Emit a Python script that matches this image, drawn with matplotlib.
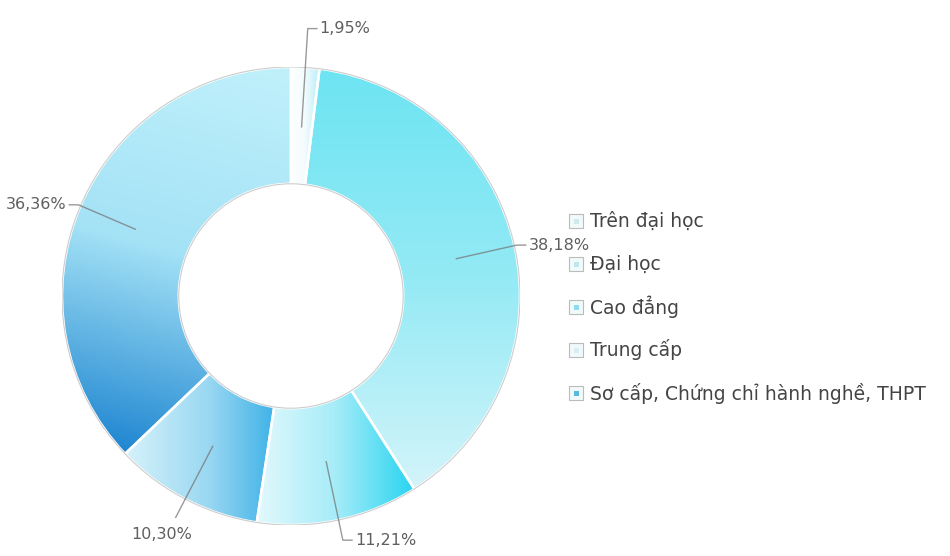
import numpy as np
import matplotlib
matplotlib.use("Agg")
import matplotlib.pyplot as plt
from matplotlib.colors import LinearSegmentedColormap
from matplotlib.patches import Circle, Rectangle

plt.rcParams["font.family"] = ["DejaVu Sans"]

# education level breakdown (%)
levels = ["Trên đại học", "Đại học", "Cao đẳng", "Trung cấp",
          "Sơ cấp, Chứng chỉ hành nghề, THPT"]
shares = [1.95, 38.18, 11.21, 10.30, 36.36]
labels = ["1,95%", "38,18%", "11,21%", "10,30%", "36,36%"]

# gradient colour stops and direction (degrees) for each slice
grad_stops = [
    ["#ffffff", "#f2fcfe", "#b9eef8"],
    ["#6de4f2", "#94eaf5", "#d3f4fa"],
    ["#e2f9fd", "#a6ecf8", "#29d4f1"],
    ["#d6f2fb", "#9ad8f2", "#29a9e5"],
    ["#c0f1fb", "#a4e2f6", "#1f86d1"],
]
grad_dir = [0, -90, 0, 0, -105]
legend_dot = ["#cfe9ec", "#bfe6ea", "#8edcf0", "#d8eef2", "#58b9e0"]

W, H = 950, 556
fig = plt.figure(figsize=(W / 100, H / 100), dpi=100)

cx, cy, R = 291, 296, 229
ax = fig.add_axes([(cx - R) / W, (H - cy - R) / H, 2 * R / W, 2 * R / H])
inner = 0.49

wedges, _ = ax.pie(shares, startangle=90, counterclock=False, radius=1,
                   wedgeprops=dict(width=1 - inner, edgecolor="white", linewidth=1.8))
ax.set_xlim(-1, 1)
ax.set_ylim(-1, 1)
ax.set_aspect("equal")
ax.axis("off")

n = 300
gx, gy = np.meshgrid(np.linspace(-1, 1, n), np.linspace(-1, 1, n))
for w, stops, d in zip(wedges, grad_stops, grad_dir):
    w.set_facecolor("none")
    ang = np.deg2rad(d)
    proj = gx * np.cos(ang) + gy * np.sin(ang)
    verts = w.get_path().vertices
    pv = verts[:, 0] * np.cos(ang) + verts[:, 1] * np.sin(ang)
    t = np.clip((proj - pv.min()) / (pv.max() - pv.min()), 0, 1)
    cmap = LinearSegmentedColormap.from_list("g", stops)
    im = ax.imshow(t, cmap=cmap, extent=(-1, 1, -1, 1), origin="lower",
                   vmin=0, vmax=1, zorder=1, interpolation="bilinear")
    im.set_clip_path(w)
    w.set_zorder(2)

ax.add_patch(Circle((0, 0), 1.0, fill=False, edgecolor="#cdcdcd", lw=0.8, zorder=3))
ax.add_patch(Circle((0, 0), inner, fill=False, edgecolor="#cdcdcd", lw=0.8, zorder=3))

# leader lines and percentage labels
for i, (w, lab) in enumerate(zip(wedges, labels)):
    mid = np.deg2rad((w.theta1 + w.theta2) / 2)
    if i == 0:
        r_out = 1.17
    elif np.sin(mid) < -0.8:
        r_out = 1.09
    else:
        r_out = 1.01
    x0, y0 = 0.74 * np.cos(mid), 0.74 * np.sin(mid)
    x1, y1 = r_out * np.cos(mid), r_out * np.sin(mid)
    side = 1 if (np.cos(mid) >= 0 or i == 0) else -1
    if np.sin(mid) < -0.8 and side < 0:
        # bottom-left label sits under its line
        ax.plot([x0, x1], [y0, y1], color="#777777", lw=1.0, alpha=0.75, zorder=4,
                clip_on=False)
        ax.text(x1 - 0.06, y1 - 0.04, lab, ha="center", va="top", fontsize=11.5,
                color="#5f5f5f", clip_on=False)
        continue
    x2 = x1 + side * 0.04
    ax.plot([x0, x1, x2], [y0, y1, y1], color="#777777", lw=1.0, alpha=0.75,
            zorder=4, clip_on=False)
    ax.text(x2 + side * 0.012, y1, lab, ha="left" if side > 0 else "right",
            va="center", fontsize=11.5, color="#5f5f5f", clip_on=False)

# legend rows
leg_x, leg_y, leg_step, box = 569, 221, 43, 14
for k, (name, c) in enumerate(zip(levels, legend_dot)):
    yc = leg_y + k * leg_step
    fig.add_artist(Rectangle((leg_x / W, (H - yc - box / 2) / H), box / W, box / H,
                             transform=fig.transFigure, facecolor="#f1fafb",
                             edgecolor="#bbbbbb", lw=0.8))
    fig.add_artist(Rectangle(((leg_x + box / 2 - 2.5) / W, (H - yc - 2.5) / H), 5 / W, 5 / H,
                             transform=fig.transFigure, facecolor=c, edgecolor="none"))
    fig.text((leg_x + box + 7) / W, (H - yc) / H, name, ha="left", va="center",
             fontsize=13.5, color="#444444")

fig.savefig("out.png", dpi=100, facecolor="white")
